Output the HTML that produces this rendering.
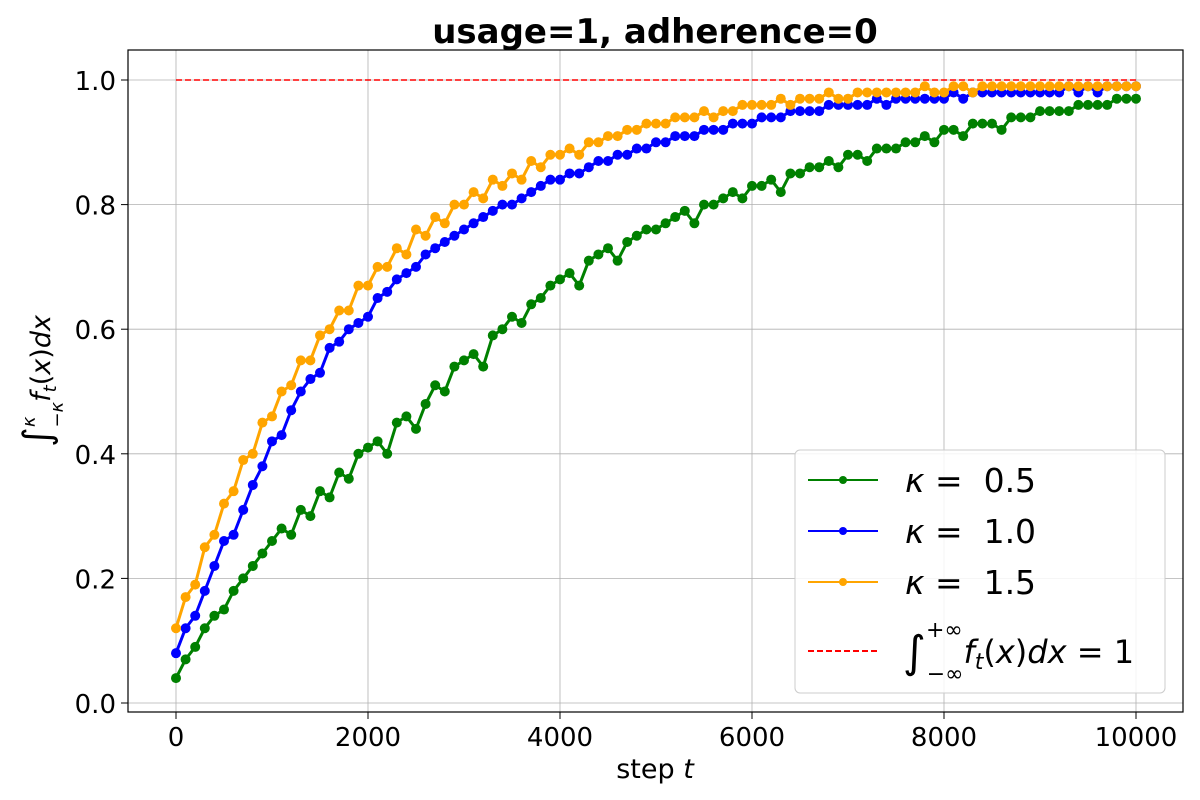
<!DOCTYPE html>
<html><head><meta charset="utf-8"><style>
body{margin:0;background:#fff;}
svg{display:block;font-family:"DejaVu Sans","Liberation Sans",sans-serif;}
</style></head><body>
<svg id="chart" width="1200" height="800" viewBox="0 0 1200 800">
<text x="655" y="43" text-anchor="middle" font-size="34" font-weight="bold">usage=1, adherence=0</text>
<g id="grid"></g>
<g id="series"></g>
<rect x="128" y="50" width="1055" height="662" fill="none" stroke="#000" stroke-width="1.2"/>
<g id="ticks"></g>
<text x="655" y="778" text-anchor="middle" font-size="27">step <tspan font-style="italic">t</tspan></text>
<text transform="translate(50,381) rotate(-90)" text-anchor="middle" font-size="27"><tspan font-size="38">∫</tspan><tspan font-size="18" dy="-15" font-style="italic">κ</tspan><tspan font-size="18" dy="28" dx="-11">−</tspan><tspan font-size="18" font-style="italic">κ</tspan><tspan dy="-13" font-style="italic">f</tspan><tspan font-size="18" dy="6" font-style="italic">t</tspan><tspan dy="-6">(</tspan><tspan font-style="italic">x</tspan><tspan>)</tspan><tspan font-style="italic">dx</tspan></text>
<g>
<rect x="795" y="450" width="370" height="243" rx="5" fill="#fff" fill-opacity="0.85" stroke="#ccc"/>
<g><line x1="808" y1="480" x2="878" y2="480" stroke="green" stroke-width="2"/><circle cx="843" cy="480" r="4" fill="green"/><text x="905" y="492" font-size="33" xml:space="preserve"><tspan font-style="italic">κ</tspan> =  0.5</text></g>
<g><line x1="808" y1="531" x2="878" y2="531" stroke="blue" stroke-width="2"/><circle cx="843" cy="531" r="4" fill="blue"/><text x="905" y="543" font-size="33" xml:space="preserve"><tspan font-style="italic">κ</tspan> =  1.0</text></g>
<g><line x1="808" y1="582" x2="878" y2="582" stroke="orange" stroke-width="2"/><circle cx="843" cy="582" r="4" fill="orange"/><text x="905" y="594" font-size="33" xml:space="preserve"><tspan font-style="italic">κ</tspan> =  1.5</text></g>
<g><line x1="808" y1="651" x2="878" y2="651" stroke="red" stroke-width="2" stroke-dasharray="6,3"/><text x="903" y="667" font-size="32"><tspan font-size="44">∫</tspan><tspan font-size="22" dy="-30">+∞</tspan><tspan font-size="22" dy="44" dx="-36">−∞</tspan><tspan dy="-18" font-style="italic">f</tspan><tspan font-size="22" dy="6" font-style="italic">t</tspan><tspan dy="-6">(</tspan><tspan font-style="italic">x</tspan>)<tspan font-style="italic">dx</tspan> = 1</text></g>
</g>
</svg>
<script>
const xTicks=[0,2000,4000,6000,8000,10000];
const yTicks=[0.0,0.2,0.4,0.6,0.8,1.0];
const steps=[];for(let i=0;i<=100;i++)steps.push(i*100);
const orangeVals=[.12,.17,.19,.25,.27,.32,.34,.39,.40,.45,
.46,.50,.51,.55,.55,.59,.60,.63,.63,.67,
.67,.70,.70,.73,.72,.76,.75,.78,.77,.80,
.80,.82,.81,.84,.83,.85,.84,.87,.86,.88,
.88,.89,.88,.90,.90,.91,.91,.92,.92,.93,
.93,.93,.94,.94,.94,.95,.94,.95,.95,.96,
.96,.96,.96,.97,.96,.97,.97,.97,.98,.97,
.97,.98,.98,.98,.98,.98,.98,.98,.99,.98,
.98,.99,.99,.98,.99,.99,.99,.99,.99,.99,
.99,.99,.99,.99,.99,.99,.99,.99,.99,.99,.99];
const blueVals=[.08,.12,.14,.18,.22,.26,.27,.31,.35,.38,
.42,.43,.47,.50,.52,.53,.57,.58,.60,.61,
.62,.65,.66,.68,.69,.70,.72,.73,.74,.75,
.76,.77,.78,.79,.80,.80,.81,.82,.83,.84,
.84,.85,.85,.86,.87,.87,.88,.88,.89,.89,
.90,.90,.91,.91,.91,.92,.92,.92,.93,.93,
.93,.94,.94,.94,.95,.95,.95,.95,.96,.96,
.96,.96,.96,.97,.96,.97,.97,.97,.97,.97,
.97,.98,.97,.98,.98,.98,.98,.98,.98,.98,
.98,.98,.98,.99,.98,.99,.98,.99,.99,.99,.99];
const greenVals=[.04,.07,.09,.12,.14,.15,.18,.20,.22,.24,
.26,.28,.27,.31,.30,.34,.33,.37,.36,.40,
.41,.42,.40,.45,.46,.44,.48,.51,.50,.54,
.55,.56,.54,.59,.60,.62,.61,.64,.65,.67,
.68,.69,.67,.71,.72,.73,.71,.74,.75,.76,
.76,.77,.78,.79,.77,.80,.80,.81,.82,.81,
.83,.83,.84,.82,.85,.85,.86,.86,.87,.86,
.88,.88,.87,.89,.89,.89,.90,.90,.91,.90,
.92,.92,.91,.93,.93,.93,.92,.94,.94,.94,
.95,.95,.95,.95,.96,.96,.96,.96,.97,.97,.97];
const refVal=1.0;
const NS='http://www.w3.org/2000/svg';
const X=v=>176+v*0.096;
const Y=v=>703-v*623;
function mk(tag,attrs,parent){const e=document.createElementNS(NS,tag);for(const k in attrs)e.setAttribute(k,attrs[k]);parent.appendChild(e);return e;}
const grid=document.getElementById('grid'),ticks=document.getElementById('ticks'),ser=document.getElementById('series');
xTicks.forEach(t=>{
 const g=mk('line',{x1:X(t),x2:X(t),y1:50,y2:712,stroke:'#b0b0b0','stroke-width':0.8},grid);
 
 
 mk('line',{x1:X(t),x2:X(t),y1:712,y2:719,stroke:'#000'},ticks);
 const l=mk('text',{x:X(t),y:746,'text-anchor':'middle','font-size':26},ticks);
 l.textContent=t;
 
 
});
yTicks.forEach(t=>{
 const g=mk('line',{x1:128,x2:1183,y1:Y(t),y2:Y(t),stroke:'#b0b0b0','stroke-width':0.8},grid);
 
 
 mk('line',{x1:121,x2:128,y1:Y(t),y2:Y(t),stroke:'#000'},ticks);
 const l=mk('text',{x:116,y:Y(t)+10,'text-anchor':'end','font-size':26},ticks);
 l.textContent=t.toFixed(1);
 
 
});
const ref=mk('line',{x1:X(0),x2:X(10000),y1:Y(refVal),y2:Y(refVal),stroke:'red','stroke-width':1.5,'stroke-dasharray':'6,3'},ser);


function draw(vals,color,name){
 const g=mk('g',{},ser);
 
 
 mk('polyline',{points:vals.map((v,i)=>X(steps[i])+','+Y(v)).join(' '),fill:'none',stroke:color,'stroke-width':3},g);
 vals.forEach((v,i)=>{const c=mk('circle',{cx:X(steps[i]),cy:Y(v),r:5,fill:color},g);
  
  });
}
draw(greenVals,'green','series-kappa-0-5');
draw(blueVals,'blue','series-kappa-1-0');
draw(orangeVals,'orange','series-kappa-1-5');
</script>
</body></html>
